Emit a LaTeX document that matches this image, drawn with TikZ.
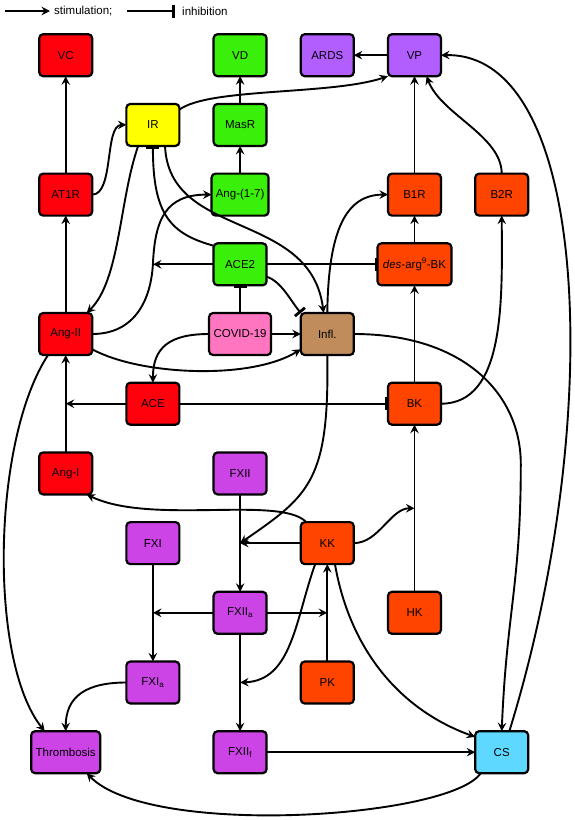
\documentclass[tikz,border=0pt]{standalone}
\usepackage{fontspec}
\setmainfont{Liberation Sans}
\usepackage{tikz}
\usetikzlibrary{matrix,arrows.meta,calc}
\definecolor{rasred}{RGB}{255,0,13}
\definecolor{masgreen}{RGB}{58,240,10}
\definecolor{iryellow}{RGB}{255,255,0}
\definecolor{vpviolet}{RGB}{178,94,255}
\definecolor{kkorange}{RGB}{255,68,0}
\definecolor{covidpink}{RGB}{255,117,192}
\definecolor{inflbrown}{RGB}{193,140,92}
\definecolor{coagpurple}{RGB}{204,68,230}
\definecolor{cscyan}{RGB}{94,216,255}

\begin{document}
\begin{tikzpicture}[x=1pt, y=-1pt,
            box/.style={draw, line width=2.2pt, rounded corners=4pt,
                minimum width=53pt, minimum height=42pt, inner sep=2pt,
                outer sep=0pt, anchor=center,
                font=\fontsize{11.5}{13}\selectfont},
            redbox/.style={box, fill=rasred},
            greenbox/.style={box, fill=masgreen},
            yellowbox/.style={box, fill=iryellow},
            violetbox/.style={box, fill=vpviolet},
            orangebox/.style={box, fill=kkorange},
            pinkbox/.style={box, fill=covidpink},
            brownbox/.style={box, fill=inflbrown},
            purplebox/.style={box, fill=coagpurple},
            cyanbox/.style={box, fill=cscyan},
            stim/.style={line width=1.9pt,
                -{Stealth[length=8.5pt,width=8.5pt,inset=3pt]}},
            inhib/.style={line width=1.9pt,
                -{Bar[width=13pt,line width=2.8pt]}},
            legend/.style={anchor=west, inner sep=0pt,
                font=\fontsize{11.5}{13}\selectfont}]
            \useasboundingbox (0,0) rectangle (574,820);

            \coordinate (stimfrom) at (5,11);
            \node[legend, inner xsep=4pt] (stimtxt) at (50,11) {stimulation;};
            \draw[stim] (stimfrom) -- (stimtxt.west);
            \coordinate (inhibfrom) at (127,11);
            \node[legend, inner xsep=7pt] (inhibtxt) at (175,11) {inhibition};
            \draw[inhib] (inhibfrom) -- (inhibtxt.west);

            \matrix (m) [matrix of nodes, anchor=north west, inner sep=0pt,
                column sep=21.5pt, row sep=25.5pt
            ] at (29.9,32.9)
            {
                |[redbox] (vc)| VC &[2.5pt] &[6pt] |[greenbox] (vd)| VD &[6pt] |[violetbox] (ards)| ARDS & |[violetbox] (vp)| VP & \\
                & |[yellowbox] (ir)| IR & |[greenbox] (masr)| MasR & & & \\
                |[redbox] (at1r)| AT1R & & |[greenbox, minimum width=57pt] (ang17)| Ang-(1-7) & & |[orangebox] (b1r)| B1R & |[orangebox] (b2r)| B2R \\
                & & |[greenbox] (ace2)| ACE2 & & |[orangebox, minimum width=74pt] (desarg)| \textit{des}-arg\textsuperscript{9}-BK & \\
                |[redbox] (angii)| Ang-II & & |[pinkbox, minimum width=62pt] (covid)| COVID-19 & |[brownbox] (infl)| Infl. & & \\
                & |[redbox] (ace)| ACE & & & |[orangebox] (bk)| BK & \\
                |[redbox] (angi)| Ang-I & & |[purplebox] (fxii)| FXII & & & \\
                & |[purplebox] (fxi)| FXI & & |[orangebox] (kk)| KK & & \\
                & & |[purplebox] (fxiia)| FXII\textsubscript{a} & & |[orangebox] (hk)| HK & \\
                & |[purplebox] (fxia)| FXI\textsubscript{a} & & |[orangebox] (pk)| PK & & \\
                |[purplebox, minimum width=69pt] (throm)| Thrombosis & & |[purplebox] (fxiif)| FXII\textsubscript{f} & & & |[cyanbox] (cs)| CS \\
            };

            \coordinate (a17) at (ir.south |- ace2.west);
            \coordinate (a2) at (angi.north |- ace.west);
            \coordinate (fxiiin) at (fxii.south |- kk.west);
            \coordinate (fxiin) at (fxi.south |- fxiia.west);
            \coordinate (kkin) at (pk.north |- fxiia.east);
            \coordinate (bkin) at ($(bk.south)!0.5!(hk.north)$);
            \coordinate (fxiifin) at (fxiia.south |- fxia.west);

            \draw[stim] (angii.north) -- (at1r.south);
            \draw[stim] (at1r.north) -- (vc.south);
            \draw[stim] (at1r.east) .. controls +(22,0) and +(-22,0) .. (ir.west);
            \draw[stim] (ir.30) .. controls +(30,-22) and +(-57,19) .. (vp.south west);
            \draw[stim] (ang17.north) -- (masr.south);
            \draw[stim] (masr.north) -- (vd.south);
            \draw[stim] (vp.west) -- (ards.east);
            \draw[stim] (b1r.north) -- (vp.south);
            \draw[stim] (b2r.north) .. controls +(0,-38) and +(14,38) .. (vp.-60);
            \draw[stim] (cs.70) .. controls +(96,-311) and +(150,-3) .. (vp.east);
            \draw[stim] (infl.east) .. controls +(110,0) and +(0,-70) .. ++(167,130)
                .. controls +(0,120) and +(5,-120) .. (cs.north);
            \draw[stim] (ir.-125) .. controls +(-19,54) and +(33.5,-33) .. (angii.45);
            \draw[inhib] (ace2.145) .. controls +(-43,-12) and +(0,69) .. (ir.south);
            \draw[stim] (ir.-60) .. controls +(4,94) and +(-13,-103) .. (infl.100);
            \draw[stim] (angii.east) .. controls +(43,0) and +(-2,35) .. (a17)
                .. controls +(2,-45) and +(-46,0) .. (ang17.west);
            \draw[stim] (ace2.west) -- (a17);
            \draw[inhib] (ace2.east) -- (desarg.west);
            \draw[inhib] (ace2.-25) .. controls +(15,5) and +(-10,-12) .. (infl.north west);
            \draw[inhib] (covid.north) -- (ace2.south);
            \draw[stim] (covid.east) -- (infl.west);
            \draw[stim] (covid.west) .. controls +(-40,0) and +(0,-35) .. (ace.north);
            \draw[stim] (angii.-30) .. controls +(48,26) and +(-50.5,31) .. (infl.-150);
            \draw[stim] (ace.west) -- (a2);
            \draw[stim] (angi.north) -- (angii.south);
            \draw[inhib] (ace.east) -- (bk.west);
            \draw[stim] (angii.-130) .. controls +(-56,85) and +(-56.5,-71) .. (throm.135);
            \draw[stim] (bk.north) -- (desarg.south);
            \draw[stim] (desarg.north) -- (b1r.south);
            \draw[stim] (bk.east) .. controls +(64.5,0) and +(0.5,84) .. (b2r.south);
            \draw[stim] (infl.north) .. controls +(1,-83) and +(-42,0) .. (b1r.west);
            \draw[stim] (infl.south) .. controls +(2,125) and +(70,-48) .. (fxiiin);
            \draw[stim] (kk.west) -- (fxiiin);
            \draw[stim] (fxii.south) -- (fxiia.north);
            \draw[stim] (kk.135) .. controls +(-26,-27) and +(63.5,31) .. (angi.-45);
            \draw[stim] (kk.east) .. controls +(25,0) and +(-24,0) .. (bkin);
            \draw[stim] (hk.north) -- (bk.south);
            \draw[stim] (fxi.south) -- (fxia.north);
            \draw[stim] (fxiia.west) -- (fxiin);
            \draw[stim] (fxiia.east) -- (kkin);
            \draw[stim] (pk.north) -- (kk.south);
            \draw[stim] (kk.-120) .. controls +(-20,56) and +(52,-2) .. (fxiifin);
            \draw[stim] (fxiia.south) -- (fxiif.north);
            \draw[stim] (fxiif.east) -- (cs.west);
            \draw[stim] (kk.-70) .. controls +(15,86) and +(-75,-27) .. (cs.150);
            \draw[stim] (cs.-135) .. controls +(-30.5,45) and +(63.5,65) .. (throm.-45);
            \draw[stim] (fxia.west) .. controls +(-40,0) and +(0,-35) .. (throm.north);

        \end{tikzpicture}
\end{document}
